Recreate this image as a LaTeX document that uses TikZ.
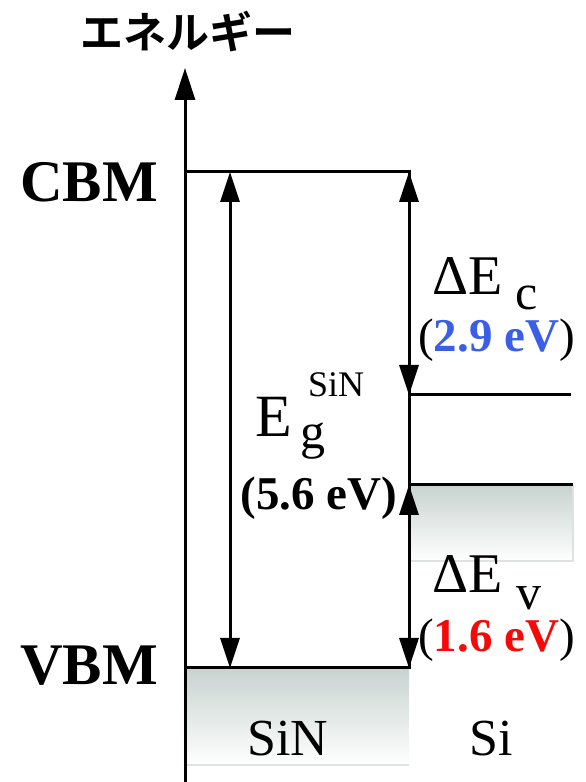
\documentclass[tikz,border=0pt]{standalone}
\usepackage{fontspec}
\setmainfont{Liberation Serif}
\newfontfamily\jpfont{Noto Sans CJK JP}[BoldFont={Noto Sans CJK JP Bold}]
\usepackage{xcolor}
\usetikzlibrary{arrows.meta,positioning,calc}
\definecolor{blue1}{RGB}{58,94,230}
\definecolor{red1}{RGB}{245,10,10}
\definecolor{band1}{RGB}{200,211,208}
\definecolor{edge1}{RGB}{222,226,225}

\begin{document}
\begin{tikzpicture}[x=1pt, y=1pt,
    level/.style={line width=3pt},
    axisline/.style={line width=3pt, -{Triangle[length=32pt,width=20pt]}},
    gaparrow/.style={line width=3pt, {Triangle[length=30pt,width=19pt]}-{Triangle[length=30pt,width=19pt]}},
    lbl/.style={inner sep=0pt, font=\fontsize{#1}{#1}\selectfont},
    lbl/.default=56]
    \useasboundingbox (0,0) rectangle (586,782);

    % band edges
    \coordinate (origin) at (185,0);
    \coordinate (top) at (185,714);
    \coordinate (cbmL) at (185,610);
    \coordinate (cbmR) at (409,610);
    \coordinate (vbmL) at (185,114);
    \coordinate (vbmR) at (409,114);
    \coordinate (sinBot) at (409,17);
    \coordinate (siCBL) at (409,387);
    \coordinate (siCBR) at (571,387);
    \coordinate (siVBL) at (409,297);
    \coordinate (siVBR) at (573,297);
    \coordinate (siBot) at (573,221);
    \coordinate (egTop) at (230,610);
    \coordinate (egBot) at (230,114);

    % shaded valence bands
    \shade[top color=band1, bottom color=white] (vbmL) rectangle (sinBot);
    \draw[edge1, line width=1.5pt] (vbmL |- sinBot) -- (sinBot);
    \shade[top color=band1, bottom color=white] (siVBL) rectangle (siBot);
    \draw[edge1, line width=1.5pt] (siVBR) -- (siBot) -- (siVBL |- siBot);

    \draw[axisline] (origin) -- (top);
    \draw[level] (cbmL) -- (cbmR) -- (vbmR) -- (vbmL);
    \draw[level] (siCBL) -- (siCBR);
    \draw[level] (siVBL) -- (siVBR |- siVBL);

    \draw[gaparrow] (egTop) -- (egBot);
    \draw[gaparrow] (cbmR) -- (siCBL);
    \draw[gaparrow] (siVBL) -- (vbmR);

    \node[inner sep=0pt, font=\jpfont\bfseries\fontsize{43}{43}\selectfont] (energy) at (188,750) {エネルギー};
    \node[lbl=59, anchor=base east] (cbm) at (158,580) {\bfseries CBM};
    \node[lbl=59, anchor=base east] (vbm) at (158,97) {\bfseries VBM};

    \node[lbl=56, anchor=base west] (dEc) at (432,487) {ΔE};
    \node[lbl=50, anchor=base west] (dEcSub) at (515,472) {c};
    \node[lbl=47, anchor=base west] (dEcVal) at (418,430) {(\textbf{\color{blue1}2.9 eV})};

    \node[lbl=60, anchor=base west] (eg) at (255,345) {E};
    \node[lbl=50, anchor=base west] (egSub) at (300,333) {g};
    \node[lbl=36, anchor=base west] (egSup) at (308,385) {SiN};
    \node[lbl=47, anchor=base] (egVal) at (319,272) {\bfseries (5.6 eV)};

    \node[lbl=56, anchor=base west] (dEv) at (432,189) {ΔE};
    \node[lbl=50, anchor=base west] (dEvSub) at (516,172) {v};
    \node[lbl=47, anchor=base west] (dEvVal) at (418,130) {(\textbf{\color{red1}1.6 eV})};

    \node[lbl=52, anchor=base] (sin) at (288,27) {SiN};
    \node[lbl=52, anchor=base] (si) at (491,27) {Si};
\end{tikzpicture}
\end{document}
